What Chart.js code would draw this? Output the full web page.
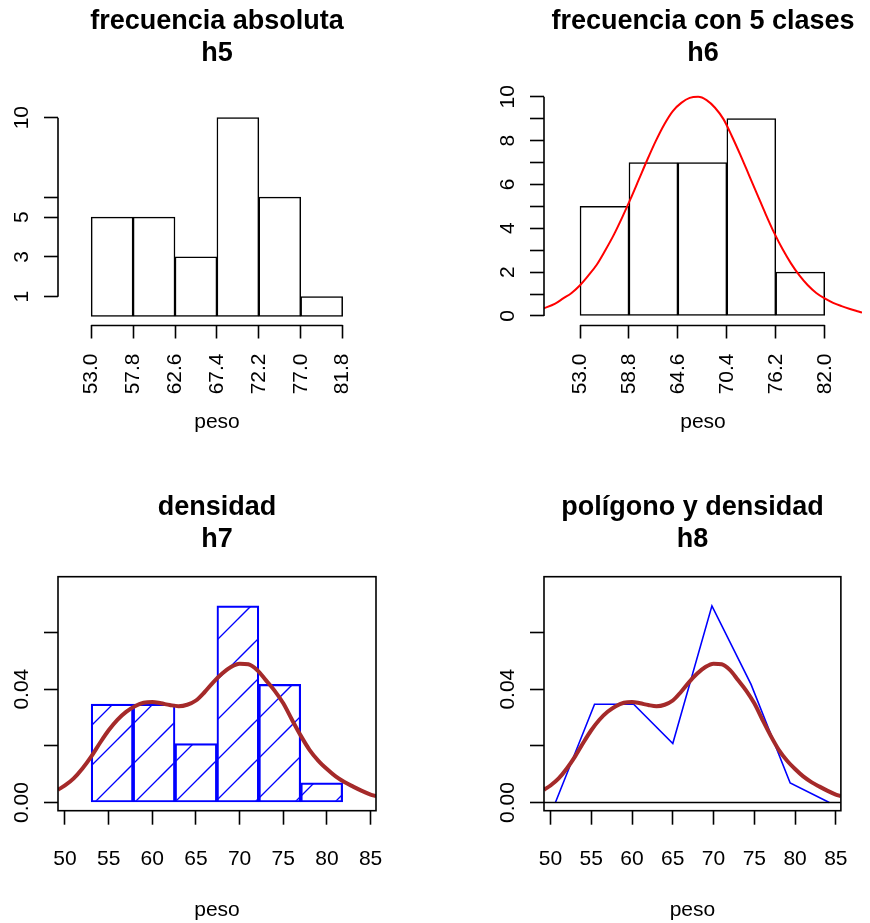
<!DOCTYPE html>
<html>
<head>
<meta charset="utf-8">
<script src="https://cdn.jsdelivr.net/npm/chart.js@4.4.1/dist/chart.umd.min.js"></script>
<style>
  body { margin: 0; background: #fff; overflow: hidden; }
  #wrap { position: relative; width: 870px; height: 923px; }
  #wrap canvas { position: absolute; }
</style>
</head>
<body>
<div id="wrap">
  <canvas id="c5" width="435" height="461" style="left:0;top:0"></canvas>
  <canvas id="c6" width="435" height="461" style="left:435px;top:0"></canvas>
  <canvas id="c7" width="435" height="462" style="left:0;top:461px"></canvas>
  <canvas id="c8" width="435" height="462" style="left:435px;top:461px"></canvas>
</div>
<script>
Chart.defaults.font.family = "'Liberation Sans', Arial, sans-serif";
Chart.defaults.color = '#000';

// h5: frecuencia absoluta
const breaks5 = [53.0, 57.8, 62.6, 67.4, 72.2, 77.0, 81.8];
const mids5 = [55.4, 60.2, 65.0, 69.8, 74.6, 79.4];
const counts5 = [5, 5, 3, 10, 6, 1];
const yTicks5 = [1, 3, 5, 6, 10];
const yLabels5 = ['1', '3', '5', '', '10'];

// h6: frecuencia con 5 clases + curva normal
const breaks6 = [53.0, 58.8, 64.6, 70.4, 76.2, 82.0];
const mids6 = [55.9, 61.7, 67.5, 73.3, 79.1];
const counts6 = [5, 7, 7, 9, 2];
const yTicks6 = [0, 1, 2, 3, 4, 5, 6, 7, 8, 9, 10];
const yLabels6 = ['0', '', '2', '', '4', '', '6', '', '8', '', '10'];
const normX6 = [48.73, 50, 51, 52, 53, 54, 55, 56, 57, 58, 59, 60, 61, 62, 63, 64, 65, 66, 67, 68,
  69, 70, 71, 72, 73, 74, 75, 76, 77, 78, 79, 80, 81, 82, 83, 84, 85, 86, 86.42];
const normY6 = [0.35, 0.55, 0.80, 1.05, 1.40, 1.85, 2.35, 3.00, 3.70, 4.50, 5.35, 6.25, 7.15, 8.00, 8.75, 9.35, 9.72, 9.95, 10.0, 9.85,
  9.50, 8.98, 8.20, 7.35, 6.45, 5.55, 4.65, 3.80, 3.05, 2.40, 1.85, 1.40, 1.05, 0.80, 0.60, 0.45, 0.32, 0.20, 0.15];

// h7 / h8: densidad
const dens7 = [0.0347, 0.0347, 0.0208, 0.0694, 0.0417, 0.0069];
const xTicksDens = [50, 55, 60, 65, 70, 75, 80, 85];
const yTicksDens = [0, 0.02, 0.04, 0.06];
const yLabelsDens = ['0.00', '', '0.04', ''];
const kdeX = [49.2, 50, 51, 52, 53, 54, 55, 56, 57, 58, 59, 60, 61, 62, 63, 64, 65, 66, 67, 68,
  69, 70, 71, 72, 73, 74, 75, 76, 77, 78, 79, 80, 81, 82, 83, 84, 85, 85.62];
const kdeY = [0.0045, 0.0060, 0.0085, 0.0120, 0.0162, 0.0210, 0.0255, 0.0292, 0.0320, 0.0340, 0.0352, 0.0355, 0.0350, 0.0344, 0.0340, 0.0345, 0.0360, 0.0390, 0.0425, 0.0455,
  0.0478, 0.0490, 0.0488, 0.0468, 0.0432, 0.0395, 0.0350, 0.0292, 0.0236, 0.0186, 0.0148, 0.0118, 0.0092, 0.0072, 0.0056, 0.0041, 0.0028, 0.0022];
const polyX = [50.6, 55.4, 60.2, 65.0, 69.8, 74.6, 79.4, 84.2];
const polyY = [0, 0.0347, 0.0347, 0.0208, 0.0694, 0.0417, 0.0069, 0];

function toPoints(xs, ys) {
  return xs.map((x, i) => ({ x: x, y: ys[i] }));
}

// diagonal hatching like R's density/angle=45
function hatchPattern() {
  const t = document.createElement('canvas');
  t.width = 40; t.height = 40;
  const c = t.getContext('2d');
  c.strokeStyle = '#0000ff';
  c.lineWidth = 1.3;
  [-4, 36, 76].forEach(k => {
    c.beginPath();
    c.moveTo(k + 3, -3);
    c.lineTo(-3, k + 3);
    c.stroke();
  });
  return c.createPattern(t, 'repeat');
}

// R style axis segments, box and abline
const rAxes = {
  id: 'rAxes',
  afterDatasetsDraw(chart, args, opts) {
    const { ctx, chartArea: a, scales: { x, y } } = chart;
    ctx.save();
    ctx.strokeStyle = '#000';
    ctx.lineWidth = 1.6;
    if (opts.hline !== undefined) {
      const py = y.getPixelForValue(opts.hline);
      ctx.beginPath(); ctx.moveTo(a.left, py); ctx.lineTo(a.right, py); ctx.stroke();
    }
    if (opts.box) {
      ctx.strokeRect(a.left, a.top, a.width, a.height);
    } else {
      const xt = x.ticks, yt = y.ticks;
      ctx.beginPath();
      ctx.moveTo(x.getPixelForValue(xt[0].value), a.bottom + 1);
      ctx.lineTo(x.getPixelForValue(xt[xt.length - 1].value), a.bottom + 1);
      ctx.moveTo(a.left, y.getPixelForValue(yt[0].value));
      ctx.lineTo(a.left, y.getPixelForValue(yt[yt.length - 1].value));
      ctx.stroke();
    }
    ctx.restore();
  }
};

function makeChart(id, cfg) {
  const canvas = document.getElementById(id);
  const W = canvas.width, H = canvas.height;
  const a = cfg.area;
  const tickGrid = { drawOnChartArea: false, drawTicks: true, tickLength: 14, tickWidth: 1.6, tickColor: '#000', offset: false };
  return new Chart(canvas, {
    type: 'bar',
    data: { datasets: cfg.datasets },
    options: {
      responsive: false,
      animation: false,
      layout: { padding: { left: 0, top: 0, right: W - a.right, bottom: 0 } },
      plugins: {
        legend: { display: false },
        tooltip: { enabled: false },
        title: {
          display: true, text: cfg.title, fullSize: false, color: '#000',
          font: { size: 27, weight: 'bold', lineHeight: 32 / 27 },
          padding: { top: cfg.titleTop, bottom: a.top - 64 - cfg.titleTop }
        },
        rAxes: { box: cfg.box, hline: cfg.hline }
      },
      scales: {
        x: {
          type: 'linear', min: cfg.xlim[0], max: cfg.xlim[1], offset: false,
          afterBuildTicks: s => { s.ticks = cfg.xTicks.map(v => ({ value: v })); },
          afterFit: s => { s.height = H - a.bottom; },
          grid: tickGrid,
          border: { display: false },
          ticks: {
            autoSkip: false, minRotation: cfg.xRot, maxRotation: cfg.xRot, padding: cfg.xPad,
            font: { size: 21 }, color: '#000', callback: cfg.xFmt
          },
          title: { display: true, text: 'peso', color: '#000', font: { size: 21, lineHeight: 1 }, padding: { top: 0, bottom: cfg.xTitlePad } }
        },
        y: {
          type: 'linear', min: cfg.ylim[0], max: cfg.ylim[1],
          afterBuildTicks: s => { s.ticks = cfg.yTicks.map(v => ({ value: v })); },
          afterFit: s => { s.width = a.left; },
          grid: tickGrid,
          border: { display: false },
          ticks: {
            autoSkip: false, minRotation: 90, maxRotation: 90, crossAlign: 'center', padding: cfg.yPad,
            font: { size: 21 }, color: '#000', callback: (v, i) => cfg.yLabels[i]
          }
        }
      }
    },
    plugins: [rAxes]
  });
}

const barStyle = { type: 'bar', borderSkipped: false, barPercentage: 1, categoryPercentage: 1, order: 2 };

makeChart('c5', {
  title: ['frecuencia absoluta', 'h5'], titleTop: 5.6,
  area: { left: 58, top: 88, right: 376, bottom: 324.5 },
  xlim: [49.2, 85.62], ylim: [-0.40, 11.49],
  xTicks: breaks5, xRot: 90, xPad: 15, xFmt: v => v.toFixed(1), xTitlePad: 27.8,
  yTicks: yTicks5, yLabels: yLabels5, yPad: 10.3,
  datasets: [
    Object.assign({ data: toPoints(mids5, counts5), backgroundColor: '#fff', borderColor: '#000', borderWidth: 1.5 }, barStyle)
  ]
});

makeChart('c6', {
  title: ['frecuencia con 5 clases', 'h6'], titleTop: 5.6,
  area: { left: 109, top: 88, right: 427, bottom: 324.5 },
  xlim: [48.73, 86.42], ylim: [-0.39, 10.40],
  xTicks: breaks6, xRot: 90, xPad: 15, xFmt: v => v.toFixed(1), xTitlePad: 27.8,
  yTicks: yTicks6, yLabels: yLabels6, yPad: 10.3,
  datasets: [
    Object.assign({ data: toPoints(mids6, counts6), backgroundColor: '#fff', borderColor: '#000', borderWidth: 1.5 }, barStyle),
    { type: 'line', data: toPoints(normX6, normY6), borderColor: '#ff0000', borderWidth: 2, pointRadius: 0, cubicInterpolationMode: 'monotone', fill: false, order: 0 }
  ]
});

makeChart('c7', {
  title: ['densidad', 'h7'], titleTop: 30.6, box: true,
  area: { left: 58, top: 115.7, right: 376, bottom: 349.7 },
  xlim: [49.2, 85.62], ylim: [-0.0029, 0.0797],
  xTicks: xTicksDens, xRot: 0, xPad: 22, xFmt: v => String(v), xTitlePad: 1.8,
  yTicks: yTicksDens, yLabels: yLabelsDens, yPad: 1.5,
  datasets: [
    Object.assign({ data: toPoints(mids5, dens7), backgroundColor: hatchPattern(), borderColor: '#0000ff', borderWidth: 1.5 }, barStyle),
    { type: 'line', data: toPoints(kdeX, kdeY), borderColor: '#a52a2a', borderWidth: 4, pointRadius: 0, cubicInterpolationMode: 'monotone', fill: false, order: 0 }
  ]
});

makeChart('c8', {
  title: ['polígono y densidad', 'h8'], titleTop: 30.6, box: true, hline: 0,
  area: { left: 109, top: 115.7, right: 427, bottom: 349.7 },
  xlim: [49.2, 85.62], ylim: [-0.0029, 0.0797],
  xTicks: xTicksDens, xRot: 0, xPad: 22, xFmt: v => String(v), xTitlePad: 1.8,
  yTicks: yTicksDens, yLabels: yLabelsDens, yPad: 1.5,
  datasets: [
    { type: 'line', data: toPoints(polyX, polyY), borderColor: '#0000ff', borderWidth: 1.6, pointRadius: 0, tension: 0, fill: false, order: 1 },
    { type: 'line', data: toPoints(kdeX, kdeY), borderColor: '#a52a2a', borderWidth: 4, pointRadius: 0, cubicInterpolationMode: 'monotone', fill: false, order: 0 }
  ]
});
</script>
</body>
</html>
